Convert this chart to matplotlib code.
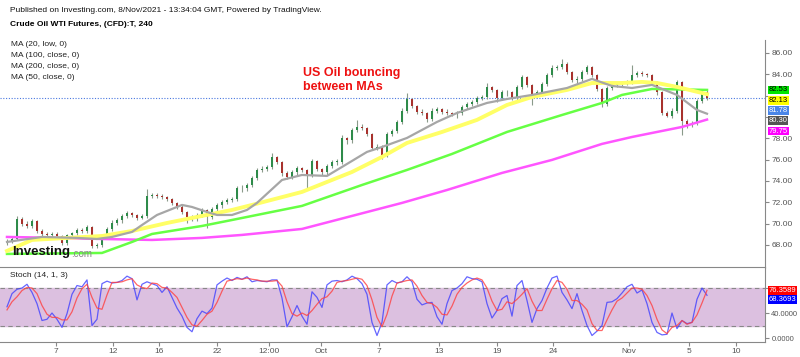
import matplotlib
matplotlib.use("Agg")
import matplotlib.pyplot as plt
import numpy as np

plt.rcParams['font.family'] = ['Liberation Sans', 'DejaVu Sans']

# 4h candles (reduced), one per slot
opens = [68.2, 68.4, 68.6, 70.4, 70.0, 69.8, 70.2, 69.3, 69.0, 68.9, 69.0, 68.8, 68.2, 68.9, 69.1,
         69.4, 69.3, 69.7, 67.9, 68.0, 68.8, 69.5, 70.1, 70.3, 70.7, 71.0, 70.8, 70.5, 70.7, 72.6,
         72.7, 72.6, 72.5, 72.3, 71.9, 71.6, 71.1, 70.6, 70.4, 70.8, 71.3, 70.6, 71.4, 71.7, 72.0,
         72.2, 72.3, 73.3, 73.3, 73.6, 74.3, 75.0, 75.1, 75.3, 76.2, 75.8, 74.7, 74.4, 74.8, 75.2,
         75.0, 74.6, 75.9, 75.1, 74.8, 75.4, 75.8, 75.8, 78.0, 77.8, 78.8, 79.1, 79.0, 78.4, 77.1,
         77.2, 76.4, 78.4, 78.7, 79.5, 80.6, 81.7, 81.0, 80.5, 80.4, 79.8, 80.6, 80.7, 80.5, 80.4,
         80.3, 80.4, 80.9, 81.2, 81.4, 81.8, 81.9, 82.8, 82.5, 81.8, 82.3, 82.3, 81.8, 82.8, 83.7,
         83.0, 82.1, 82.3, 83.1, 83.9, 84.6, 84.7, 85.0, 84.2, 83.5, 83.6, 84.2, 84.7, 83.9, 82.6,
         81.2, 82.7, 83.0, 83.1, 83.2, 83.3, 83.9, 84.1, 84.0, 83.9, 83.3, 82.3, 80.4, 80.1, 80.6,
         83.3, 79.6, 79.3, 79.4, 81.5, 82.3]
closes = [68.4, 68.6, 70.4, 70.0, 69.8, 70.2, 69.3, 69.0, 68.9, 69.0, 68.8, 68.2, 68.9, 69.1, 69.4,
          69.3, 69.7, 67.9, 68.0, 68.8, 69.5, 70.1, 70.3, 70.7, 71.0, 70.8, 70.5, 70.7, 72.6, 72.7,
          72.6, 72.5, 72.3, 71.9, 71.6, 71.1, 70.6, 70.4, 70.8, 71.3, 70.6, 71.4, 71.7, 72.0, 72.2,
          72.3, 73.3, 73.3, 73.6, 74.3, 75.0, 75.1, 75.3, 76.2, 75.8, 74.7, 74.4, 74.8, 75.2, 75.0,
          74.6, 75.9, 75.1, 74.8, 75.4, 75.8, 75.8, 78.0, 77.8, 78.8, 79.1, 79.0, 78.4, 77.1, 77.2,
          76.4, 78.4, 78.7, 79.5, 80.6, 81.7, 81.0, 80.5, 80.4, 79.8, 80.6, 80.7, 80.5, 80.4, 80.3,
          80.4, 80.9, 81.2, 81.4, 81.8, 81.9, 82.8, 82.5, 81.8, 82.3, 82.3, 81.8, 82.8, 83.7, 83.0,
          82.1, 82.3, 83.1, 83.9, 84.6, 84.7, 85.0, 84.2, 83.5, 83.6, 84.2, 84.7, 83.9, 82.6, 81.2,
          82.7, 83.0, 83.1, 83.2, 83.3, 83.9, 84.1, 84.0, 83.9, 83.3, 82.3, 80.4, 80.1, 80.6, 83.3,
          79.6, 79.3, 79.4, 81.5, 82.3, 81.78]
highs = [68.6, 68.8, 70.7, 70.6, 70.2, 70.4, 70.3, 69.5, 69.2, 69.2, 69.2, 68.9, 69.0, 69.2, 69.6,
         69.6, 69.9, 69.8, 68.2, 69.0, 69.7, 70.3, 70.5, 70.9, 71.2, 71.1, 70.9, 70.9, 73.2, 72.9,
         72.9, 72.8, 72.6, 72.4, 72.0, 71.7, 71.2, 70.8, 71.0, 71.5, 71.4, 71.6, 71.9, 72.2, 72.4,
         72.5, 73.5, 73.6, 73.8, 74.5, 75.2, 75.4, 75.5, 76.6, 76.3, 75.9, 74.9, 75.0, 75.4, 75.3,
         75.1, 76.1, 76.0, 75.2, 75.6, 76.0, 76.1, 78.3, 78.1, 79.0, 79.7, 79.3, 79.1, 78.5, 77.5,
         77.4, 78.6, 78.9, 79.7, 80.8, 82.2, 81.8, 81.1, 80.7, 80.5, 80.8, 80.9, 80.8, 80.7, 80.5,
         80.6, 81.1, 81.4, 81.6, 82.0, 82.1, 83.2, 82.9, 82.6, 82.5, 82.5, 82.4, 83.0, 83.9, 83.8,
         83.1, 82.5, 83.3, 84.1, 84.9, 84.9, 85.4, 85.1, 84.3, 83.8, 84.4, 84.9, 84.8, 84.0, 82.7,
         82.9, 83.2, 83.3, 83.4, 83.5, 84.9, 84.3, 84.3, 84.1, 84.0, 83.4, 82.4, 80.6, 80.8, 83.5,
         83.4, 79.8, 79.6, 81.7, 82.6, 82.5]
lows = [68.0, 68.2, 68.5, 69.8, 69.6, 69.6, 69.1, 68.8, 68.6, 68.7, 68.6, 68.0, 68.0, 68.7, 68.9,
        69.1, 69.1, 67.7, 67.7, 67.8, 68.6, 69.3, 69.9, 70.1, 70.5, 70.6, 70.3, 70.4, 70.5, 72.4,
        72.4, 72.3, 72.1, 71.7, 71.4, 70.9, 70.1, 70.2, 70.2, 70.6, 69.6, 70.4, 71.2, 71.5, 71.8,
        72.0, 72.1, 73.0, 73.1, 73.4, 74.1, 74.8, 74.9, 75.1, 75.6, 74.5, 74.2, 74.2, 74.6, 74.8,
        73.3, 74.4, 74.9, 74.6, 74.6, 75.2, 75.5, 75.6, 77.5, 77.6, 78.6, 78.8, 78.2, 76.9, 76.9,
        76.1, 76.2, 78.2, 78.5, 79.3, 80.4, 80.8, 80.3, 80.2, 79.5, 79.6, 80.4, 80.3, 80.2, 80.1,
        79.9, 80.2, 80.7, 81.0, 81.2, 81.6, 81.7, 82.3, 81.4, 81.6, 82.0, 81.6, 81.6, 82.6, 82.8,
        81.1, 81.9, 82.1, 82.9, 83.7, 84.4, 84.5, 84.0, 83.3, 83.0, 83.4, 84.0, 83.7, 82.4, 80.9,
        81.0, 82.5, 82.8, 82.9, 83.0, 83.1, 83.7, 83.8, 83.7, 83.1, 82.1, 80.2, 80.0, 79.9, 80.4,
        78.3, 79.0, 79.1, 79.2, 81.3, 81.6]

# moving averages, sampled at candle slots
ma20_x = [0, 7, 14, 18, 21, 25, 27, 30, 34, 35, 37, 40, 42, 45, 48, 50, 55, 59, 64, 67, 72, 75,
          80, 86, 90, 96, 100, 105, 112, 117, 121, 125, 129, 134, 138, 140]
ma20_y = [68.28, 68.75, 68.66, 68.56, 68.75, 69.22, 69.87, 70.81, 71.56, 71.75, 71.56, 71.09,
          70.81, 70.81, 71.28, 71.94, 74.09, 74.56, 74.47, 75.31, 76.72, 77.18, 78.03, 79.53,
          80.37, 81.31, 81.68, 82.06, 82.71, 83.56, 82.90, 82.71, 83.0, 82.06, 80.65, 80.30]
ma50_x = [0, 5, 12, 19, 25, 32, 39, 45, 49, 59, 69, 75, 80, 87, 94, 100, 105, 112, 117, 123,
          127, 130, 134, 140]
ma50_y = [67.44, 68.47, 68.66, 68.84, 69.31, 70.06, 70.72, 71.28, 71.75, 72.97, 74.84, 76.25,
          77.56, 78.59, 79.72, 81.12, 81.87, 82.53, 83.18, 83.18, 83.28, 83.18, 82.81, 82.13]
ma100_x = [0, 19, 25, 29, 39, 45, 59, 71, 80, 89, 100, 111, 119, 123, 129, 140]
ma100_y = [67.16, 67.25, 68.28, 69.03, 69.78, 70.34, 71.66, 73.62, 75.03, 76.53, 78.59, 80.18,
           81.31, 82.06, 82.62, 82.53]
ma200_x = [0, 10, 19, 29, 39, 47, 59, 69, 79, 88, 99, 109, 119, 125, 135, 140]
ma200_y = [68.75, 68.66, 68.56, 68.47, 68.66, 68.94, 69.50, 70.72, 71.94, 73.15, 74.75, 75.97,
           77.47, 78.12, 79.06, 79.75]

# stochastic (14, 1, 3)
stoch_k = [50, 71, 78, 80, 86, 73, 55, 28, 30, 40, 30, 17, 39, 70, 84, 82, 93, 20, 30, 87, 91,
           88, 89, 92, 99, 95, 61, 86, 90, 87, 84, 73, 82, 65, 48, 35, 17, 10, 31, 43, 39, 48,
           85, 91, 96, 92, 97, 94, 98, 90, 92, 91, 90, 93, 93, 64, 18, 34, 52, 35, 22, 74, 65,
           49, 85, 91, 92, 90, 93, 99, 95, 87, 70, 25, 4, 25, 85, 92, 88, 90, 98, 90, 62, 53,
           56, 57, 34, 22, 55, 76, 80, 87, 98, 95, 94, 90, 55, 32, 44, 63, 68, 35, 84, 92, 60,
           25, 47, 60, 80, 96, 99, 73, 61, 47, 71, 44, 20, 4, 11, 20, 57, 58, 63, 72, 82, 86,
           72, 77, 55, 25, 9, 5, 6, 40, 15, 28, 23, 25, 62, 80, 68.3693]
stoch_d = [45, 58, 66, 76, 81, 80, 71, 52, 38, 33, 33, 29, 29, 42, 64, 79, 86, 65, 48, 46, 69,
           89, 89, 90, 93, 95, 85, 81, 79, 88, 87, 81, 80, 73, 65, 49, 33, 21, 19, 28, 38, 43,
           57, 75, 91, 93, 95, 94, 96, 94, 93, 91, 91, 91, 92, 83, 58, 39, 35, 40, 36, 44, 54,
           63, 66, 75, 89, 91, 92, 94, 96, 94, 84, 61, 33, 18, 38, 67, 88, 90, 92, 93, 83, 68,
           57, 55, 49, 38, 37, 51, 70, 81, 88, 93, 96, 93, 80, 59, 44, 46, 58, 55, 62, 70, 79,
           59, 44, 44, 62, 79, 92, 89, 78, 60, 60, 54, 45, 23, 12, 12, 29, 45, 59, 64, 72, 80,
           80, 78, 68, 52, 30, 13, 7, 17, 20, 28, 22, 25, 37, 56, 76.3589]

tick_pos = [9.8, 21.2, 30.4, 42, 52.4, 62.8, 74.4, 86.4, 98, 109.2, 124.4, 136.4, 145.8]
tick_lab = ['7', '12', '16', '22', '12:00', 'Oct', '7', '13', '19', '24', 'Nov', '5', '10']

fig = plt.figure(figsize=(8, 3.57), dpi=100)
ax = fig.add_axes([0, 0.2493, 0.95625, 0.6387])
ax2 = fig.add_axes([0, 0.042, 0.95625, 0.21])

x = np.arange(len(closes))
o = np.array(opens)
c = np.array(closes)
up = c >= o
body_lo = np.minimum(o, c)
body_h = np.maximum(np.abs(c - o), 0.06)
cols = np.where(up, '#2e8b4a', '#a8322d')

ax.vlines(x, lows, highs, color='#8a9a8a', lw=0.8, zorder=2)
ax.bar(x, body_h, bottom=body_lo, width=0.55, color=cols, zorder=3)

ax.plot(ma200_x, ma200_y, color='#ff55ff', lw=1.8, zorder=4)
ax.plot(ma100_x, ma100_y, color='#66ff44', lw=1.8, zorder=4)
ax.plot(ma50_x, ma50_y, color='#ffff66', lw=2.8, zorder=4)
ax.plot(ma20_x, ma20_y, color='#a6a6a6', lw=1.6, zorder=5)

last = closes[-1]
ax.axhline(last, color='#4a78e0', lw=0.8, ls=(0, (1, 1.5)), zorder=1)

ax.set_xlim(-1.4, 151.6)
ax.set_ylim(65.84, 87.21)
ax.yaxis.tick_right()
yt = np.arange(68, 87, 2)
ax.set_yticks(yt)
# 80 and 82 sit behind the price labels
ax.set_yticklabels(['' if v in (80, 82) else '%.2f' % v for v in yt], fontsize=6, color='#555555')
ax.tick_params(axis='y', length=3, color='#888888', pad=2)
ax.set_xticks([])
for s in ['top', 'left', 'bottom']:
    ax.spines[s].set_visible(False)
ax.spines['right'].set_color('#888888')

# price labels on the right, stacked
side = [('%.2f' % ma100_y[-1], '#00e600', 'black'),
        ('%.2f' % ma50_y[-1], '#ffff00', 'black'),
        ('%.2f' % last, '#4a86e8', 'white'),
        ('%.2f' % ma20_y[-1], '#555555', 'white'),
        ('%.2f' % ma200_y[-1], '#ff00ff', 'white')]
for k, (txt, bg, fg) in enumerate(side):
    ax.annotate(txt, xy=(1.0, ma100_y[-1]), xycoords=('axes fraction', 'data'),
                xytext=(2.5, -k * 7.4), textcoords='offset points', fontsize=5.5, color=fg,
                va='center', ha='left',
                bbox=dict(boxstyle='square,pad=0.12', fc=bg, ec='none'))

# stochastic panel
ax2.axhspan(20, 80, color='#dcc0e0', zorder=0)
ax2.axhline(20, color='#888888', lw=0.8, ls=(0, (4, 3)))
ax2.axhline(80, color='#888888', lw=0.8, ls=(0, (4, 3)))
ax2.plot(x, stoch_k, color='#4040ff', lw=0.9, alpha=0.8)
ax2.plot(x, stoch_d, color='#ff4040', lw=0.9, alpha=0.8)
ax2.set_xlim(-1.4, 151.6)
ax2.set_ylim(-6.4, 113.6)
ax2.yaxis.tick_right()
ax2.set_yticks([0, 40, 80])
ax2.set_yticklabels(['0.0000', '40.0000', ''], fontsize=5.5, color='#555555')
ax2.set_xticks(tick_pos)
ax2.set_xticklabels(tick_lab, fontsize=6, color='#555555')
ax2.tick_params(axis='both', length=3, color='#888888', pad=1.5)
ax2.spines['left'].set_visible(False)
for s in ['top', 'right', 'bottom']:
    ax2.spines[s].set_color('#888888')
ax2.text(0.013, 0.87, 'Stoch (14, 1, 3)', transform=ax2.transAxes, fontsize=6, color='#222222')
for k, (val, bg) in enumerate([(stoch_d[-1], '#ff0000'), (stoch_k[-1], '#0000ff')]):
    ax2.annotate('%.4f' % val, xy=(1.0, stoch_d[-1]),
                 xycoords=('axes fraction', 'data'), xytext=(2.5, -k * 6.8),
                 textcoords='offset points', fontsize=5.5, color='white',
                 va='center', ha='left', bbox=dict(boxstyle='square,pad=0.12', fc=bg, ec='none'))

# header texts
fig.text(10 / 800, 1 - 10 / 357, 'Published on Investing.com, 8/Nov/2021 - 13:34:04 GMT, Powered by TradingView.',
         fontsize=6, va='center', color='#111111')
fig.text(10 / 800, 1 - 25 / 357, 'Crude Oil WTI Futures, (CFD):T, 240', fontsize=6, weight='bold',
         va='center')
for k, t in enumerate(['MA (20, low, 0)', 'MA (100, close, 0)', 'MA (200, close, 0)', 'MA (50, close, 0)']):
    fig.text(11 / 800, 1 - (45 + k * 10.7) / 357, t, fontsize=6, va='center', color='#222222')
fig.text(303 / 800, 1 - 80 / 357, 'US Oil bouncing\nbetween MAs', fontsize=9, weight='bold',
         color='#ee1111', va='center', linespacing=1.15)
fig.text(12 / 800, 1 - 252 / 357, 'Investing', fontsize=9.5, weight='bold', va='center', color='#111111')
fig.text(71 / 800, 1 - 254 / 357, '.com', fontsize=7, va='center', color='#888888')

plt.savefig('out.png', dpi=100)
